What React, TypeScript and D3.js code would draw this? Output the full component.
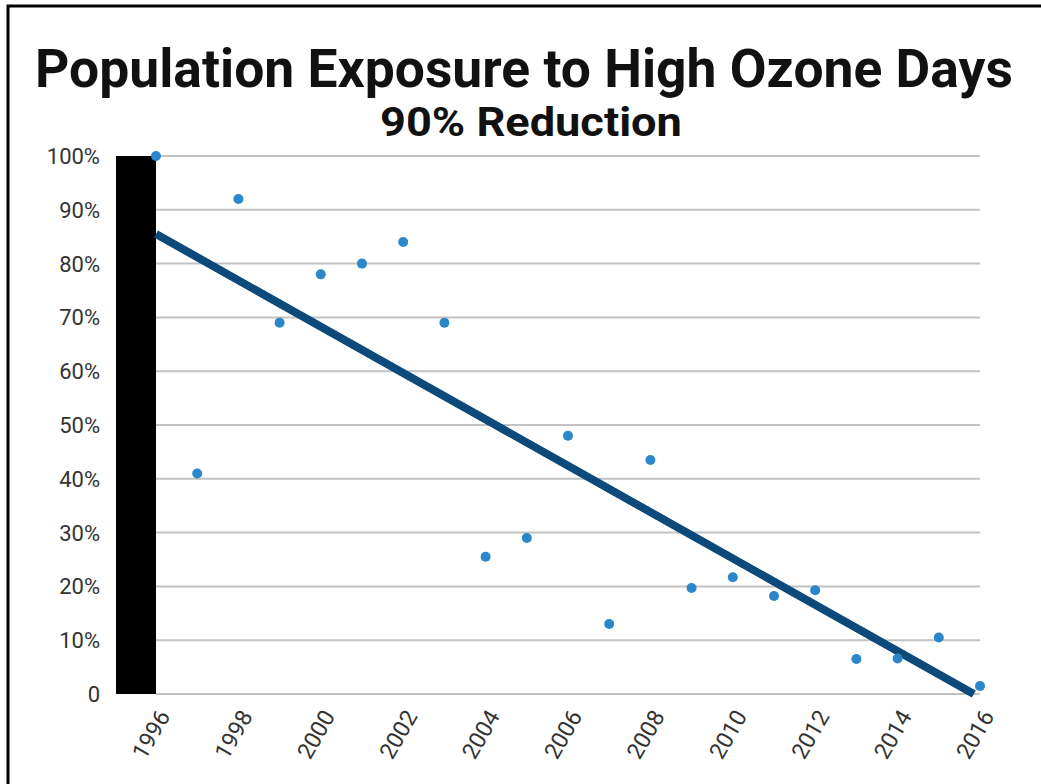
import React, { useLayoutEffect, useRef, useState } from "react";
import * as d3 from "d3";

const years = [1996,1997,1998,1999,2000,2001,2002,2003,2004,2005,2006,2007,2008,2009,2010,2011,2012,2013,2014,2015,2016];
const exposure = [100,41,92,69,78,80,84,69,25.5,29,48,13,43.5,19.7,21.7,18.2,19.3,6.5,6.6,10.5,1.5];
const barYears = [1996];
const barValues = [100];
const trendYears = [1996, 2015.85];
const trendValues = [85.5, 0];
const yTicks = [0,10,20,30,40,50,60,70,80,90,100];
const xTickYears = [1996,1998,2000,2002,2004,2006,2008,2010,2012,2014,2016];
const title = "Population Exposure to High Ozone Days";
const subtitle = "90% Reduction";

function FitText(props: { x: number; y: number; width: number; size: number; text: string }) {
  const ref = useRef<SVGTextElement>(null);
  const [sx, setSx] = useState(1);
  useLayoutEffect(() => {
    if (ref.current) {
      const w = ref.current.getComputedTextLength();
      if (w > 0) setSx(props.width / w);
    }
  }, [props.width, props.text, props.size]);
  return (
    <text
      ref={ref}
      transform={`translate(${props.x},${props.y}) scale(${sx},1)`}
      fontFamily="Roboto, 'DejaVu Sans', sans-serif"
      fontWeight={700}
      fontSize={props.size}
      fill="#111"
    >
      {props.text}
    </text>
  );
}

export default function App() {
  const W = 1041, H = 784;
  const x = d3.scaleLinear().domain([1996, 2016]).range([156, 980]);
  const y = d3.scaleLinear().domain([0, 100]).range([694, 156]);
  const line = d3.line<number>().x((_, i) => x(trendYears[i])).y((v) => y(v));
  const labelFont = "Roboto, 'DejaVu Sans', sans-serif";
  return (
    <svg width={W} height={H} style={{ position: "absolute", left: 0, top: 0, background: "#fff" }}>
      <rect x={0} y={0} width={W} height={H} fill="#fff" />
      <path d={`M8,${H + 10} L8,6 L${W + 10},6`} fill="none" stroke="#000" strokeWidth={3} />
      <FitText x={35} y={87} width={978} size={54} text={title} />
      <FitText x={380} y={136} width={302} size={40} text={subtitle} />
      {yTicks.map((t) => (
        <line key={"g" + t} x1={x(1996)} x2={x(2016)} y1={y(t)} y2={y(t)} stroke="#c2c2c2" strokeWidth={2} />
      ))}
      {barYears.map((yr, i) => (
        <rect key={"b" + yr} x={x(yr) - 40} y={y(barValues[i])} width={40} height={y(0) - y(barValues[i])} fill="#000" />
      ))}
      {yTicks.map((t) => (
        <text key={"yl" + t} x={100} y={y(t)} dy="0.36em" textAnchor="end" fontFamily={labelFont} fontSize={22} fill="#333">{t === 0 ? "0" : `${t}%`}</text>
      ))}
      {xTickYears.map((yr) => (
        <text key={"xl" + yr} transform={`translate(${x(yr) + 8},${712}) rotate(-60)`} textAnchor="end" dy="0.35em" fontFamily={labelFont} fontSize={23} fill="#333">{yr}</text>
      ))}
      <path d={line(trendValues) || ""} fill="none" stroke="#0b4a7b" strokeWidth={8} />
      {years.map((yr, i) => (
        <circle key={"p" + yr} cx={x(yr)} cy={y(exposure[i])} r={5} fill="#2b87c9" />
      ))}
    </svg>
  );
}
